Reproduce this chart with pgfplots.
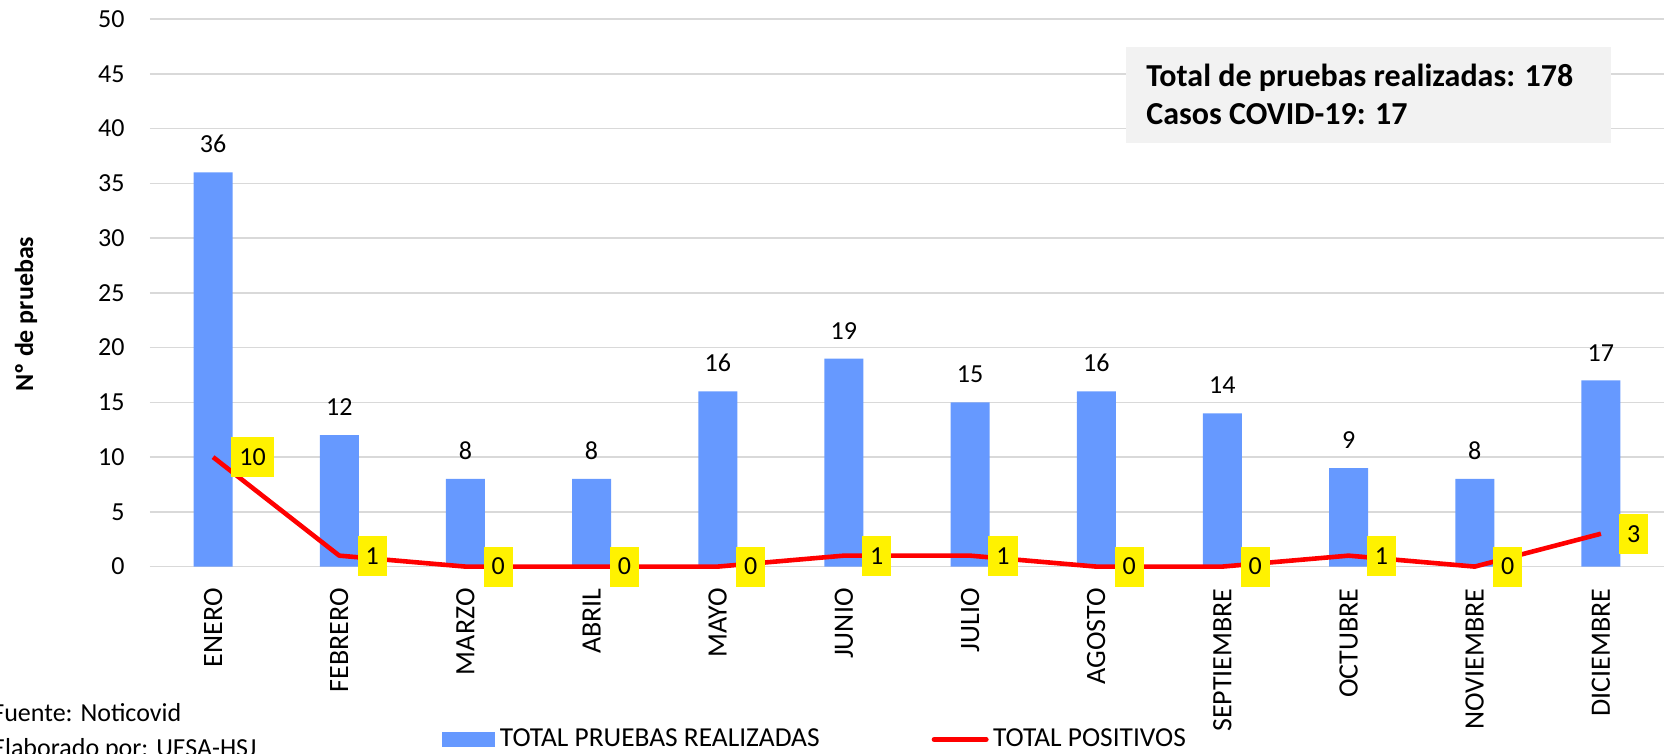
\documentclass[border=0pt]{standalone}
\usepackage{pgfplots}
\pgfplotsset{compat=1.18}
\usepackage{fontspec}
\setmainfont{Carlito}
\definecolor{barblue}{HTML}{6699FF}
\definecolor{gridgray}{HTML}{D9D9D9}
\definecolor{boxgray}{HTML}{F2F2F2}
\newcommand{\fs}{\fontsize{13}{15.6}\selectfont}
\newcommand{\fm}{\fontsize{14}{16.8}\selectfont}
\newcommand{\fl}{\fontsize{13.7}{16.4}\selectfont}

\begin{document}
\begin{tikzpicture}[font=\fs]
\useasboundingbox (0,0) rectangle (833.5pt,377pt);
\clip (0,0) rectangle (833.5pt,377pt);
\begin{axis}[
 at={(75pt,93.7pt)}, anchor=south west,
 scale only axis, width=757pt, height=273.75pt,
 xmin=-0.5, xmax=11.5, ymin=0, ymax=50,
 xtick={0,...,11},
 xticklabels={ENERO,FEBRERO,MARZO,ABRIL,MAYO,JUNIO,JULIO,AGOSTO,SEPTIEMBRE,OCTUBRE,NOVIEMBRE,DICIEMBRE},
 ytick={0,5,...,50},
 /pgf/number format/assume math mode=true,
 tick label style={font=\fs},
 xticklabel style={rotate=90, anchor=east, inner sep=0pt, font=\fm},
 xticklabel shift=10.7pt,
 yticklabel style={anchor=east, inner sep=0pt},
 yticklabel shift=12.5pt,
 major tick length=0pt,
 axis line style={draw=none},
 ymajorgrids, grid style={gridgray, line width=0.7pt},
 clip=false,
 legend columns=2,
 legend cell align=left,
 legend style={at={(0.1929,-0.3158)}, anchor=west, draw=none, fill=none, inner sep=0pt, font=\fl,
   nodes={inner sep=0pt},
   /tikz/every odd column/.append style={column sep=2.25pt},
   /tikz/every even column/.append style={column sep=56pt}},
]
\addplot[ybar, bar width=19.5pt, bar shift=0pt, fill=barblue, draw=none,
 nodes near coords,
 every node near coord/.append style={font=\fs, text=black, inner sep=0pt, anchor=south, yshift=9.5pt},
 legend image code/.code={\fill[barblue] (0pt,-3.6pt) rectangle (26.5pt,3.6pt);}]
 coordinates {(0,36) (1,12) (2,8) (3,8) (4,16) (5,19) (6,15) (7,16) (8,14) (9,9) (10,8) (11,17)};
\addlegendentry{TOTAL PRUEBAS REALIZADAS}
\addplot[red, line width=2.3pt, line join=round, mark=none, sharp plot,
 nodes near coords,
 every node near coord/.append style={font=\fs, text=black, fill=yellow, inner xsep=4pt, inner ysep=0pt, minimum height=20pt, anchor=west, xshift=8pt},
 legend image code/.code={\draw[red, line width=2.5pt, line cap=round] (0pt,0pt) -- (26pt,0pt);}]
 coordinates {(0,10) (1,1) (2,0) (3,0) (4,0) (5,1) (6,1) (7,0) (8,0) (9,1) (10,0) (11,3)};
\addlegendentry{TOTAL POSITIVOS}
\end{axis}
\fill[boxgray] (563pt,305.65pt) rectangle (805.5pt,353.35pt);
\node[anchor=base west, inner sep=0pt, font=\fontsize{16}{19}\selectfont\bfseries] at (573pt,333.6pt) {Total de pruebas realizadas: 178};
\node[anchor=base west, inner sep=0pt, font=\fontsize{16}{19}\selectfont\bfseries] at (573pt,314.5pt) {Casos COVID-19: 17};
\node[rotate=90, inner sep=0pt, font=\fs\bfseries] at (13pt,220pt) {Nº de pruebas};
\node[anchor=base west, inner sep=0pt] at (-4pt,16.1pt) {Fuente: Noticovid};
\node[anchor=base west, inner sep=0pt] at (-4pt,-1.5pt) {Elaborado por: UESA-HSJ};
\end{tikzpicture}
\end{document}
